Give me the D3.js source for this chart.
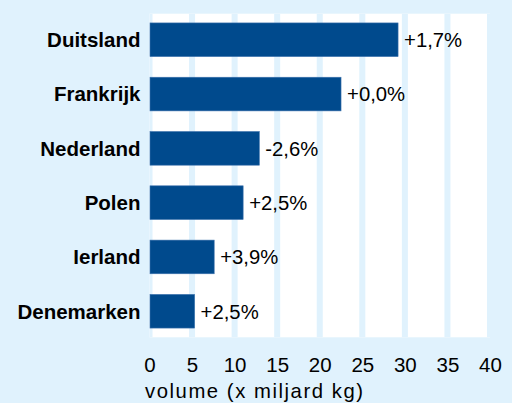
<!DOCTYPE html>
<html>
<head>
<meta charset="utf-8">
<script src="https://cdn.jsdelivr.net/npm/d3@7/dist/d3.min.js"></script>
<style>
  html, body { margin: 0; padding: 0; background: #e0f2fd; }
  svg { display: block; font-family: 'Liberation Sans', Arial, sans-serif; }
</style>
</head>
<body>
<svg id="chart" width="512" height="403"></svg>
<script>
// data
const countries = ['Duitsland', 'Frankrijk', 'Nederland', 'Polen', 'Ierland', 'Denemarken']
const volumes = [29.2, 22.5, 12.9, 11.0, 7.6, 5.3]
const changes = ['+1,7%', '+0,0%', '-2,6%', '+2,5%', '+3,9%', '+2,5%']
const ticks = [0, 5, 10, 15, 20, 25, 30, 35, 40]
const axisTitle = 'volume (x miljard kg)'

const bg = '#e0f2fd'
const barColor = '#004a8d'

const svg = d3.select('#chart')
const plot = { left: 149.5, right: 490, top: 13.7, bottom: 337.3 }

const x = d3.scaleLinear().domain([0, 40]).range([plot.left, plot.right])
const y = d3.scaleBand()
    .domain(countries)
    .range([plot.top, plot.bottom])
    .paddingInner(0.38)
    .paddingOuter(0.17)

svg.append('rect')
    .attr('width', 512).attr('height', 403)
    .attr('fill', bg)

svg.append('defs').append('clipPath').attr('id', 'plotClip')
    .append('rect')
    .attr('x', plot.left).attr('y', plot.top)
    .attr('width', plot.right - plot.left + 3)
    .attr('height', plot.bottom - plot.top)

// white plot area with light-blue stripes at each tick
svg.append('rect')
    .attr('x', plot.left).attr('y', plot.top)
    .attr('width', plot.right - plot.left)
    .attr('height', plot.bottom - plot.top)
    .attr('fill', '#fff')

svg.append('g')
    .attr('clip-path', 'url(#plotClip)')
    .selectAll('rect')
    .data(ticks)
    .join('rect')
    .attr('x', (d) => x(d) - 3)
    .attr('y', plot.top)
    .attr('width', 6)
    .attr('height', plot.bottom - plot.top)
    .attr('fill', bg)

// bars
svg.append('g')
    .selectAll('rect')
    .data(countries)
    .join('rect')
    .attr('x', x(0) + 0.5)
    .attr('y', (d) => y(d))
    .attr('width', (d, i) => x(volumes[i]) - x(0) - 0.5)
    .attr('height', y.bandwidth())
    .attr('fill', barColor)
    .attr('stroke', '#3d72ad')
    .attr('stroke-width', 0.6)

// value labels
svg.append('g')
    .selectAll('text')
    .data(countries)
    .join('text')
    .attr('x', (d, i) => x(volumes[i]) + 6)
    .attr('y', (d) => y(d) + y.bandwidth() / 2)
    .attr('dy', '0.36em')
    .style('font-size', '20.3px')
    .attr('fill', '#000')
    .text((d, i) => changes[i])

// category axis
const yAxis = d3.axisLeft(y).tickSize(0).tickPadding(9)
svg.append('g')
    .attr('transform', `translate(${plot.left}, 0)`)
    .call(yAxis)
    .call((g) => g.select('.domain').remove())
    .call((g) => g.selectAll('text')
        .attr('fill', '#000')
        .style('font-size', '20.5px')
        .style('font-weight', 'bold')
        .style('font-family', "'Liberation Sans', Arial, sans-serif")
        .attr('dy', '0.36em'))

// value axis
const xAxis = d3.axisBottom(x).tickValues(ticks).tickSize(0).tickPadding(0)
svg.append('g')
    .attr('transform', `translate(0, ${plot.bottom})`)
    .call(xAxis)
    .call((g) => g.select('.domain').remove())
    .call((g) => g.selectAll('text')
        .attr('fill', '#000')
        .attr('y', 35)
        .attr('dy', 0)
        .style('font-size', '20.5px')
        .style('font-family', "'Liberation Sans', Arial, sans-serif"))

svg.append('text')
    .attr('x', 145)
    .attr('y', 397.5)
    .attr('textLength', 218)
    .attr('lengthAdjust', 'spacing')
    .style('font-size', '20.3px')
    .attr('fill', '#000')
    .text(axisTitle)
</script>
</body>
</html>
